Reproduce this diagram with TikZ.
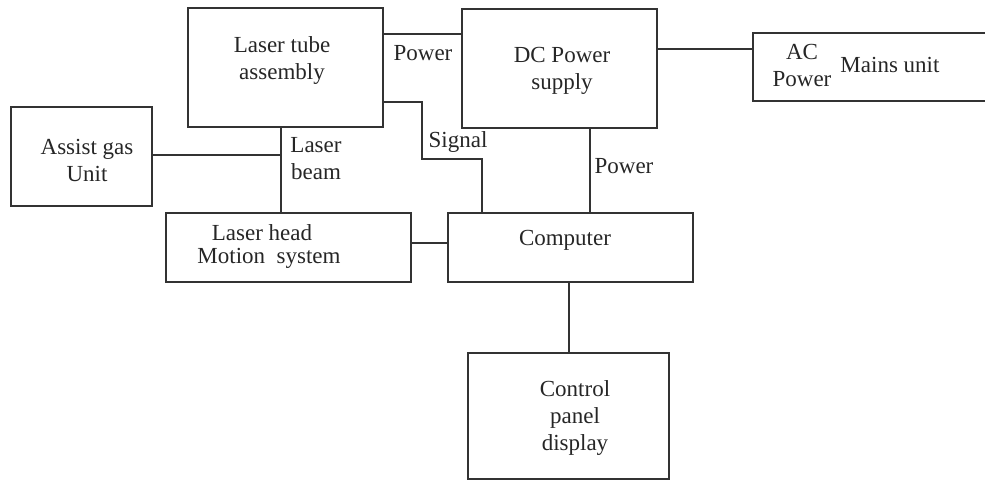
\documentclass[tikz,border=0pt]{standalone}
\usepackage{fontspec}
\setmainfont{Liberation Serif}
\begin{document}
\begin{tikzpicture}[x=1pt,y=-1pt,
  blk/.style={draw=black!80, line width=2pt, inner sep=0pt},
  wire/.style={draw=black!80, line width=2pt},
  lbl/.style={font=\fontsize{23}{27}\selectfont, text=black!85, align=center, inner sep=0pt},
  txt/.style={font=\fontsize{23}{27}\selectfont, text=black!85, align=center, inner sep=0pt}]
\useasboundingbox (0,0) rectangle (985,481);
\clip (0,0) rectangle (985,481);
% boxes
\node[blk, minimum width=195pt, minimum height=119pt] (tube) at (285.5,67.5) {};
\node[blk, minimum width=195pt, minimum height=119pt] (dc) at (559.5,68.5) {};
\node[blk, minimum width=241pt, minimum height=68pt] (ac) at (873.5,67) {};
\node[blk, minimum width=141pt, minimum height=99pt] (gas) at (81.5,156.5) {};
\node[blk, minimum width=245pt, minimum height=69pt] (head) at (288.5,247.5) {};
\node[blk, minimum width=245pt, minimum height=69pt] (comp) at (570,247.5) {};
\node[blk, minimum width=201pt, minimum height=126pt] (panel) at (568.5,416) {};
% texts
\node[txt] (t1) at (282,61) {Laser tube\\assembly};
\node[txt] (t2) at (562,70.5) {DC Power\\supply};
\node[txt] (t3) at (802,65.5) {AC\\Power};
\node[txt] (t4) at (890,65) {Mains unit};
\node[txt] (t5) at (87,160.5) {Assist gas\\Unit};
\node[txt] (t6) at (262,233) {Laser head};
\node[txt] (t7) at (269,258) {Motion\enspace system};
\node[txt] (t8) at (565,240) {Computer};
\node[txt] (t9) at (575,417.5) {Control\\panel\\display};
% connectors
\coordinate (bj) at (281,155);
\draw[wire] (tube.south -| bj) -- (head.north -| bj);
\draw[wire] (gas.east |- bj) -- (bj);
\coordinate (pw) at (0,34);
\draw[wire] (tube.east |- pw) -- (dc.west |- pw);
\coordinate (sg1) at (0,102);
\coordinate (sg2) at (422,159);
\coordinate (sg3) at (482,159);
\draw[wire] (tube.east |- sg1) -| (sg2) -- (sg3) -- (comp.north -| sg3);
\coordinate (ap) at (0,49);
\draw[wire] (dc.east |- ap) -- (ac.west |- ap);
\coordinate (dp) at (590,0);
\draw[wire] (dc.south -| dp) -- (comp.north -| dp);
\coordinate (hc) at (0,243);
\draw[wire] (head.east |- hc) -- (comp.west |- hc);
\coordinate (cp) at (569,0);
\draw[wire] (comp.south -| cp) -- (panel.north -| cp);
% connector labels
\node[lbl] (l1) at (423,53) {Power};
\node[lbl] (l2) at (458,142) {Signal};
\node[lbl] (l3) at (316,159) {Laser\\beam};
\node[lbl] (l4) at (624,166) {Power};
\end{tikzpicture}
\end{document}
